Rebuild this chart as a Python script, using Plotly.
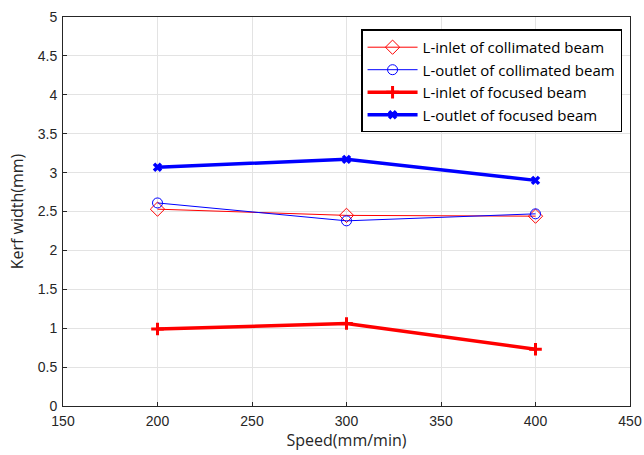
import plotly.graph_objects as go

speed = [200, 300, 400]
inlet_collimated = [2.53, 2.45, 2.44]
outlet_collimated = [2.61, 2.38, 2.47]
inlet_focused = [0.99, 1.06, 0.73]
outlet_focused = [3.07, 3.17, 2.90]

fig = go.Figure()
fig.add_trace(go.Scatter(x=speed, y=inlet_collimated, name="L-inlet of collimated beam",
    mode="lines+markers", line=dict(color="red", width=1),
    marker=dict(symbol="diamond-open", size=11, color="red", line=dict(width=1))))
fig.add_trace(go.Scatter(x=speed, y=outlet_collimated, name="L-outlet of collimated beam",
    mode="lines+markers", line=dict(color="blue", width=1),
    marker=dict(symbol="circle-open", size=10, color="blue", line=dict(width=1))))
fig.add_trace(go.Scatter(x=speed, y=inlet_focused, name="L-inlet of focused beam",
    mode="lines+markers", line=dict(color="red", width=3.5),
    marker=dict(symbol="cross-thin", size=9, color="red", line=dict(width=3, color="red"))))
fig.add_trace(go.Scatter(x=speed, y=outlet_focused, name="L-outlet of focused beam",
    mode="lines+markers", line=dict(color="blue", width=3.5),
    marker=dict(symbol="x-thin", size=7, color="blue", line=dict(width=3.5, color="blue"))))

axis_common = dict(showline=True, linecolor="#262626", linewidth=1, mirror=True,
                   showgrid=True, gridcolor="#e3e3e3", gridwidth=1, zeroline=False,
                   ticks="inside", ticklen=4, tickcolor="#262626", automargin=False,
                   tickfont=dict(family="Liberation Sans, Arial", size=14, color="#262626"))

fig.update_layout(
    width=644, height=455,
    margin=dict(l=63, r=14, t=17, b=49),
    paper_bgcolor="white", plot_bgcolor="white",
    xaxis=dict(range=[150, 450], dtick=50, ticklabelstandoff=2,
               title=dict(text="Speed(mm/min)", font=dict(family="Open Sans", size=16, color="#262626"), standoff=4),
               **axis_common),
    yaxis=dict(range=[0, 5], dtick=0.5, ticklabelstandoff=2,
               title=dict(text="Kerf width(mm)", font=dict(family="Open Sans", size=16, color="#262626"), standoff=10),
               **axis_common),
    legend=dict(x=0.986, y=0.968, xanchor="right", yanchor="top",
                bgcolor="white", bordercolor="black", borderwidth=1.5,
                font=dict(family="Open Sans", size=15, color="black"),
                tracegroupgap=0, itemwidth=50),
    showlegend=True,
)

fig.write_html("out.html")
